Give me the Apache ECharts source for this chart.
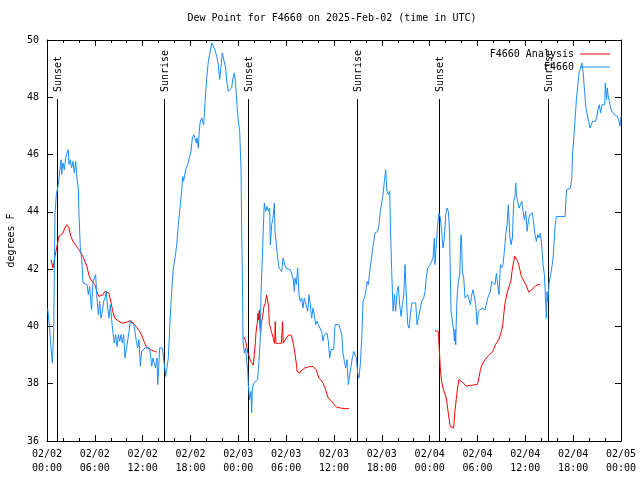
<!DOCTYPE html>
<html>
<head>
<meta charset="utf-8">
<script src="https://cdn.jsdelivr.net/npm/echarts@6/dist/echarts.min.js"></script>
<style>html,body{margin:0;padding:0;background:#fff;}#c{width:640px;height:480px;}</style>
</head>
<body>
<div id="c"></div>
<script>
// hours since 2025-02-02 00:00 UTC
const tickLabels = ['02/02\n00:00','02/02\n06:00','02/02\n12:00','02/02\n18:00','02/03\n00:00','02/03\n06:00','02/03\n12:00','02/03\n18:00','02/04\n00:00','02/04\n06:00','02/04\n12:00','02/04\n18:00','02/05\n00:00'];

const eventTimes = [1.21, 14.72, 25.25, 38.84, 49.21, 62.8];
const eventLabels = ['Sunset','Sunrise','Sunset','Sunrise','Sunset','Sunrise'];

const observed = [
[0.08,40.64],[0.17,40.58],[0.33,39.94],[0.5,39.25],[0.67,38.72],[0.84,39.83],[1.0,43.9],[1.17,44.6],[1.42,44.95],[1.59,45.41],[1.76,45.82],[1.84,45.3],[2.0,45.71],[2.17,45.47],[2.34,45.88],[2.51,46.05],[2.68,46.17],[2.76,45.65],[2.93,45.82],[3.09,45.53],[3.26,45.76],[3.43,45.36],[3.6,45.76],[3.76,45.18],[3.93,44.77],[4.01,43.96],[4.18,42.74],[4.35,42.39],[4.52,41.52],[4.77,41.46],[5.02,41.46],[5.18,41.11],[5.35,41.4],[5.48,40.88],[5.6,40.58],[5.73,41.46],[5.94,41.69],[6.1,41.81],[6.27,40.99],[6.44,40.41],[6.61,40.88],[6.77,40.29],[6.94,40.53],[7.11,40.88],[7.28,40.99],[7.44,41.22],[7.61,40.64],[7.78,40.29],[7.94,40.76],[8.11,40.24],[8.28,39.77],[8.45,39.42],[8.61,39.71],[8.78,39.3],[8.95,39.71],[9.12,39.48],[9.28,39.71],[9.45,39.42],[9.62,39.71],[9.78,38.9],[9.95,39.19],[10.12,39.19],[10.29,39.83],[10.45,40.18],[10.7,40.18],[10.87,40.06],[11.04,39.83],[11.21,39.48],[11.37,39.25],[11.54,39.54],[11.71,38.61],[11.87,39.13],[12.04,39.19],[12.29,39.25],[12.54,39.19],[12.79,39.25],[12.96,39.07],[13.13,38.61],[13.3,38.9],[13.46,38.72],[13.63,38.55],[13.8,38.9],[13.88,37.97],[13.97,38.31],[14.13,39.25],[14.47,39.25],[14.72,39.25],[14.89,38.26],[15.05,38.55],[15.22,38.9],[15.43,40.18],[15.64,41.22],[15.85,42.04],[16.06,42.39],[16.27,42.85],[16.47,43.55],[16.68,44.13],[16.89,44.72],[17.02,45.24],[17.14,45.07],[17.39,45.47],[17.65,45.65],[17.9,45.65],[18.06,46.11],[18.23,46.58],[18.4,46.69],[18.56,46.58],[18.73,46.4],[18.82,46.58],[18.98,46.23],[19.07,46.69],[19.19,47.1],[19.4,47.28],[19.57,47.33],[19.65,47.04],[19.82,47.8],[20.03,48.67],[20.24,49.26],[20.4,49.49],[20.66,49.9],[20.82,49.9],[21.07,49.66],[21.28,49.43],[21.49,49.14],[21.66,48.62],[21.83,49.08],[21.99,49.55],[22.24,49.6],[22.41,49.02],[22.58,48.5],[22.75,48.21],[23.0,48.15],[23.16,48.32],[23.33,48.67],[23.5,48.85],[23.67,48.44],[23.83,47.74],[24.0,47.16],[24.17,46.81],
[24.34,45.47],[24.42,43.32],[24.5,41.92],[24.59,39.48],[24.75,39.07],[24.92,39.25],[25.09,38.66],[25.17,38.49],[25.25,37.97],[25.42,37.44],[25.59,37.73],[25.67,36.98],[25.76,37.85],[25.92,38.02],[26.17,38.02],[26.42,38.14],[26.59,38.78],[26.76,39.6],[26.84,41.11],[27.01,42.39],[27.18,43.78],[27.26,44.31],[27.43,44.02],[27.6,44.19],[27.76,44.02],[27.93,44.13],[28.02,42.85],[28.18,43.55],[28.35,43.78],[28.52,44.31],[28.6,43.32],[28.77,42.85],[28.94,42.39],[29.1,42.04],[29.27,41.98],[29.44,41.92],[29.61,42.39],[29.77,42.45],[29.94,42.04],[30.19,41.98],[30.52,41.98],[30.69,42.04],[30.86,41.69],[31.03,41.22],[31.11,41.69],[31.28,41.46],[31.44,42.04],[31.53,41.57],[31.61,41.11],[31.78,40.88],[31.95,40.99],[32.11,40.64],[32.28,40.99],[32.45,41.05],[32.7,40.53],[32.87,41.11],[33.03,40.76],[33.2,40.29],[33.37,40.64],[33.53,40.41],[33.7,40.06],[33.87,40.18],[34.04,40.06],[34.2,40.06],[34.45,39.83],[34.62,39.48],[34.79,39.71],[34.96,39.71],[35.12,39.77],[35.29,39.48],[35.46,38.9],[35.63,39.19],[35.79,39.19],[35.96,39.19],[36.13,40.06],[36.3,40.06],[36.63,40.06],[36.8,40.12],[36.97,39.71],[37.13,39.07],[37.3,38.78],[37.46,38.55],[37.63,38.84],[37.8,37.97],[37.97,38.31],[38.13,38.61],[38.3,38.9],[38.47,39.13],[38.64,39.19],[38.81,38.9],[38.97,38.37],[39.14,38.2],[39.31,38.72],[39.48,39.6],[39.64,40.88],[39.81,40.99],[39.98,41.22],[40.15,41.57],[40.31,41.46],[40.48,41.92],[40.65,42.27],[40.81,42.62],[40.98,42.97],[41.14,43.26],[41.48,43.32],[41.65,43.55],[41.81,44.02],[41.98,44.31],[42.15,44.6],[42.32,45.07],[42.48,45.47],[42.65,44.72],[42.82,44.6],[42.99,44.72],[43.07,43.55],[43.24,41.92],[43.41,40.53],[43.58,41.11],[43.74,40.53],[43.91,41.22],[44.07,41.4],[44.24,40.76],[44.41,40.35],[44.58,40.76],[44.75,41.11],[44.91,42.16],[45.08,40.99],[45.25,40.06],[45.42,39.94],[45.58,40.41],[45.75,40.82],[46.25,40.82],[46.42,40.06],[46.67,40.0],[46.83,40.64],[47.0,40.88],[47.25,40.99],[47.42,41.22],[47.58,41.69],[47.75,42.04],[47.92,42.1],[48.08,42.16],[48.25,42.27],[48.42,42.39],
[48.59,43.09],[48.67,42.16],[48.92,42.16],[49.0,43.55],[49.17,43.96],[49.34,43.78],[49.51,43.32],[49.67,42.74],[49.84,43.09],[50.01,43.9],[50.18,44.13],[50.34,44.02],[50.43,43.67],[50.51,43.09],[50.68,40.53],[50.85,40.18],[51.02,39.83],[51.1,39.48],[51.18,39.89],[51.27,39.36],[51.35,40.29],[51.43,40.99],[51.6,41.57],[51.77,41.81],[51.85,42.62],[51.94,43.2],[52.02,42.85],[52.1,41.92],[52.27,41.69],[52.44,40.99],[52.6,40.99],[52.77,41.11],[52.94,40.93],[53.11,40.76],[53.28,41.11],[53.44,41.28],[53.61,41.34],[53.78,40.76],[53.95,40.06],[54.11,40.53],[54.28,40.58],[54.62,40.64],[54.94,40.58],[55.11,40.64],[55.28,40.99],[55.44,41.11],[55.61,41.22],[55.78,41.57],[56.03,41.57],[56.2,41.46],[56.37,41.86],[56.53,41.46],[56.7,41.11],[56.87,42.16],[57.04,42.04],[57.2,42.16],[57.37,42.62],[57.54,43.2],[57.71,43.55],[57.87,44.25],[58.04,43.2],[58.21,42.85],[58.38,43.09],[58.54,44.37],[58.71,44.54],[58.79,45.01],[58.88,44.6],[59.04,44.37],[59.21,44.13],[59.38,44.25],[59.55,44.37],[59.72,44.02],[59.88,43.73],[60.05,44.02],[60.22,43.32],[60.38,43.67],[60.55,43.9],[60.72,43.96],[60.89,43.96],[61.05,43.9],[61.22,43.2],[61.39,42.97],[61.55,43.2],[61.72,43.09],[61.89,43.26],[62.06,42.8],[62.22,42.16],[62.39,41.81],[62.56,40.76],[62.64,40.29],[62.72,41.22],[62.81,40.88],[62.98,41.52],[63.14,41.57],[63.31,42.04],[63.48,42.39],[63.73,43.49],[63.9,43.84],[64.99,43.84],[65.16,44.77],[65.66,44.83],[65.83,45.18],[65.92,46.0],[66.08,46.58],[66.25,47.28],[66.42,47.97],[66.59,48.44],[66.76,48.91],[66.93,49.02],[67.09,49.2],[67.26,48.85],[67.43,48.21],[67.6,47.63],[67.77,47.63],[67.93,47.16],[68.1,46.93],[68.27,46.93],[68.44,47.16],[68.61,47.22],[68.77,47.16],[68.94,47.28],[69.11,47.57],[69.28,47.74],[69.44,47.45],[69.61,47.74],[69.78,47.68],[69.95,47.74],[70.03,48.5],[70.2,47.92],[70.28,48.32],[70.37,48.09],[70.53,47.86],[70.7,47.63],[70.87,47.51],[71.03,47.45],[71.2,47.39],[71.37,47.45],[71.54,47.33],[71.7,47.22],[71.87,46.99],[72.0,47.33]
];

const analysis1 = [[0.5,42.33],[0.75,42.04],[1.0,42.45],[1.25,42.8],[1.5,43.14],[1.75,43.2],[2.0,43.26],[2.25,43.44],[2.5,43.55],[2.75,43.44],[3.0,43.14],[3.25,42.97],[3.5,42.88],[3.75,42.83],[4.0,42.68],[4.25,42.56],[4.5,42.45],[4.75,42.39],[5.0,42.1],[5.25,41.8],[5.5,41.63],[5.75,41.54],[6.0,41.46],[6.25,41.22],[6.5,41.05],[6.75,41.01],[7.0,41.1],[7.25,41.22],[7.5,41.26],[7.75,41.17],[8.0,40.88],[8.25,40.53],[8.5,40.29],[8.75,40.24],[9.0,40.18],[9.25,40.12],[9.5,40.11],[9.75,40.12],[10.0,40.15],[10.25,40.18],[10.5,40.2],[10.75,40.15],[11.0,40.06],[11.25,39.97],[11.5,39.88],[11.75,39.77],[12.0,39.6],[12.25,39.42],[12.5,39.27],[12.75,39.22],[13.0,39.19],[13.25,39.15],[13.5,39.13],[13.8,39.1]];

const analysis2 = [[24.71,39.64],[24.9,39.5],[25.05,39.29],[25.21,39.06],[25.38,38.94],[25.55,38.77],[25.71,38.72],[25.88,38.65],[25.96,38.71],[26.05,39.18],[26.13,39.41],[26.21,39.76],[26.3,39.99],[26.38,40.11],[26.46,40.46],[26.55,40.22],[26.63,40.57],[26.71,39.99],[26.8,39.76],[26.88,40.11],[26.96,40.22],[27.05,40.34],[27.21,40.69],[27.38,40.81],[27.55,41.1],[27.71,41.1],[27.8,40.69],[27.88,40.11],[28.05,39.93],[28.21,39.76],[28.38,39.58],[28.55,39.41],[28.63,40.17],[28.71,39.41],[29.0,39.41],[29.4,39.41],[29.55,40.17],[29.63,39.41],[29.8,39.47],[29.96,39.58],[30.13,39.64],[30.3,39.7],[30.46,39.73],[30.63,39.7],[30.8,39.53],[30.96,39.29],[31.13,39.0],[31.3,38.65],[31.38,38.42],[31.55,38.36],[31.71,38.38],[31.88,38.45],[32.05,38.5],[32.3,38.54],[32.55,38.57],[32.8,38.59],[33.05,38.61],[33.38,38.6],[33.63,38.59],[33.8,38.48],[33.96,38.31],[34.13,38.19],[34.3,38.13],[34.46,38.1],[34.63,38.02],[34.8,37.9],[34.96,37.78],[35.13,37.61],[35.3,37.49],[35.55,37.43],[35.8,37.37],[35.96,37.28],[36.13,37.25],[36.3,37.19],[36.55,37.17],[36.8,37.15],[37.05,37.14],[37.38,37.13],[37.88,37.13]];

const analysis3 = [[48.67,39.85],[49.08,39.83],[49.17,39.36],[49.25,39.01],[49.33,38.55],[49.5,38.08],[49.67,37.85],[49.92,37.85],[50.08,37.5],[50.25,37.15],[50.42,36.8],[50.58,36.51],[50.75,36.45],[51.0,36.45],[51.17,37.05],[51.33,37.44],[51.5,37.85],[51.67,38.14],[51.92,38.14],[52.25,38.02],[52.58,37.91],[53.08,37.94],[53.58,37.96],[54.0,37.98],[54.17,38.2],[54.33,38.43],[54.5,38.61],[54.67,38.72],[55.08,38.9],[55.5,39.01],[55.92,39.13],[56.25,39.36],[56.67,39.54],[57.0,39.83],[57.17,40.06],[57.42,40.76],[57.58,40.99],[57.83,41.28],[58.08,41.3],[58.17,41.57],[58.33,41.92],[58.5,42.21],[58.67,42.45],[58.83,42.45],[59.0,42.3],[59.17,42.16],[59.5,41.75],[59.75,41.71],[60.08,41.46],[60.42,41.2],[60.67,41.2],[60.92,41.31],[61.33,41.43],[61.83,41.48]];

const FONT = 'DejaVu Sans Mono';
const BLUE = '#1a8cff';
const RED = '#ff0000';
const EVENT_TOP = 47.94;

const chart = echarts.init(document.getElementById('c'), null, {renderer: 'canvas'});

function xAxisCfg(pos, showLabel) {
  return {
    type: 'value', position: pos, min: 0, max: 72, interval: 6,
    axisLine: {show: true, onZero: false, lineStyle: {color: '#000', width: 1}},
    axisTick: {show: true, inside: true, length: 6, lineStyle: {color: '#000'}},
    minorTick: {show: true, splitNumber: 3, length: 3, lineStyle: {color: '#000'}},
    splitLine: {show: false},
    axisLabel: {
      show: showLabel, margin: 6, color: '#000', fontFamily: FONT, fontSize: 10, lineHeight: 14,
      formatter: v => tickLabels[Math.round(v / 6)]
    }
  };
}
function yAxisCfg(pos, showLabel) {
  const c = {
    type: 'value', position: pos, min: 36, max: 50, interval: 2,
    axisLine: {show: true, onZero: false, lineStyle: {color: '#000', width: 1}},
    axisTick: {show: true, inside: true, length: 6, lineStyle: {color: '#000'}},
    splitLine: {show: false},
    axisLabel: {show: showLabel, margin: 8, color: '#000', fontFamily: FONT, fontSize: 10}
  };
  if (showLabel) {
    c.name = 'degrees F';
    c.nameLocation = 'middle';
    c.nameGap = 31;
    c.nameRotate = 90;
    c.nameTextStyle = {color: '#000', fontFamily: FONT, fontSize: 10};
  }
  return c;
}

const lineCommon = {type: 'line', symbol: 'none', showSymbol: false, animation: false, xAxisIndex: 0, yAxisIndex: 0};

function legendCfg(name, top) {
  return {data: [name], right: 30, top: top, align: 'right', icon: 'rect', itemWidth: 30, itemHeight: 1,
          itemGap: 0, padding: 0, textStyle: {color: '#000', fontFamily: FONT, fontSize: 10, padding: [0, 1, 0, 0]}};
}

const option = {
  animation: false,
  backgroundColor: '#fff',
  title: {
    text: 'Dew Point for F4660 on 2025-Feb-02 (time in UTC)',
    left: 332, textAlign: 'center', top: 13, padding: 0,
    textStyle: {color: '#000', fontFamily: FONT, fontSize: 10, fontWeight: 'normal'}
  },
  grid: {left: 47, right: 19, top: 40, bottom: 39, containLabel: false, outerBoundsMode: 'none'},
  legend: [legendCfg('F4660 Analysis', 49), legendCfg('F4660', 62)],
  xAxis: [xAxisCfg('bottom', true), xAxisCfg('top', false)],
  yAxis: [yAxisCfg('left', true), yAxisCfg('right', false)],
  series: [
    {
      type: 'custom', name: 'events', xAxisIndex: 0, yAxisIndex: 0, silent: true,
      data: eventTimes.map(t => [t, 36]),
      encode: {x: 0, y: 1},
      renderItem: function (params, api) {
        const t = api.value(0);
        const top = api.coord([t, EVENT_TOP]);
        const bot = api.coord([t, 36]);
        const px = Math.round(top[0]) + 0.5;
        return {
          type: 'group',
          children: [
            {type: 'line', shape: {x1: px, y1: Math.round(top[1]), x2: px, y2: bot[1]},
             style: {stroke: '#000', lineWidth: 1}},
            {type: 'text', x: px + 0.5, y: top[1] - 7, rotation: Math.PI / 2,
             style: {text: eventLabels[params.dataIndex], fill: '#000', font: '10px ' + FONT,
                     textAlign: 'left', textVerticalAlign: 'middle'}}
          ]
        };
      }
    },
    Object.assign({}, lineCommon, {name: 'F4660 Analysis', data: analysis1, lineStyle: {color: RED, width: 1}, itemStyle: {color: RED}}),
    Object.assign({}, lineCommon, {name: 'F4660 Analysis', data: analysis2, lineStyle: {color: RED, width: 1}, itemStyle: {color: RED}}),
    Object.assign({}, lineCommon, {name: 'F4660 Analysis', data: analysis3, lineStyle: {color: RED, width: 1}, itemStyle: {color: RED}}),
    Object.assign({}, lineCommon, {name: 'F4660', data: observed, lineStyle: {color: BLUE, width: 1}, itemStyle: {color: BLUE}})
  ]
};
chart.setOption(option);
</script>
</body>
</html>
